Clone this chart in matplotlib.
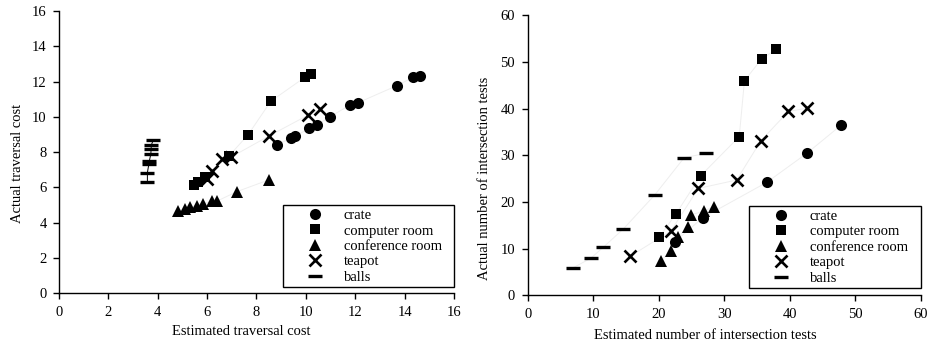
import matplotlib
matplotlib.use("Agg")
import matplotlib.pyplot as plt
from matplotlib.lines import Line2D

plt.rcParams['font.family'] = ['Liberation Serif', 'DejaVu Serif']
plt.rcParams['font.size'] = 10.5

# 左图: 遍历代价 (估计 vs 实际)
crate_x_l = [8.82, 9.40, 9.56, 10.14, 10.44, 10.98, 11.79, 12.12, 13.68, 14.35, 14.62]
crate_y_l = [8.40, 8.80, 8.90, 9.34, 9.53, 10.00, 10.67, 10.80, 11.76, 12.24, 12.32]
comp_x_l = [5.45, 5.65, 5.90, 6.90, 7.65, 8.58, 9.95, 10.20]
comp_y_l = [6.15, 6.30, 6.60, 7.80, 8.96, 10.88, 12.23, 12.45]
conf_x_l = [4.83, 5.10, 5.32, 5.58, 5.82, 6.18, 6.41, 7.20, 8.50]
conf_y_l = [4.65, 4.78, 4.87, 4.95, 5.05, 5.20, 5.22, 5.75, 6.42]
tea_x_l = [6.00, 6.20, 6.60, 6.98, 8.52, 10.10, 10.57]
tea_y_l = [6.45, 6.95, 7.58, 7.72, 8.92, 10.10, 10.42]
balls_x_l = [3.58, 3.58, 3.64, 3.66, 3.72, 3.73, 3.74, 3.82]
balls_y_l = [6.32, 6.83, 7.32, 7.50, 7.89, 8.15, 8.40, 8.68]

# 右图: 相交测试次数
crate_x_r = [22.5, 26.7, 36.5, 42.6, 47.8]
crate_y_r = [11.5, 16.6, 24.2, 30.4, 36.4]
comp_x_r = [20.05, 22.6, 26.4, 32.3, 33.1, 35.7, 37.9]
comp_y_r = [12.4, 17.35, 25.6, 34.0, 46.0, 50.6, 52.7]
conf_x_r = [20.35, 21.88, 23.0, 24.5, 24.9, 26.9, 28.4]
conf_y_r = [7.41, 9.56, 12.56, 14.7, 17.2, 18.06, 19.0]
tea_x_r = [15.7, 21.9, 26.05, 31.9, 35.6, 39.8, 42.7]
tea_y_r = [8.4, 13.85, 22.9, 24.7, 33.1, 39.4, 40.1]
balls_x_r = [6.87, 9.6, 11.55, 14.6, 19.4, 23.9, 27.2]
balls_y_r = [5.85, 7.9, 10.3, 14.2, 21.5, 29.5, 30.4]

labels = ['crate', 'computer room', 'conference room', 'teapot', 'balls']
styles = [
    dict(marker='o', markersize=8, markeredgewidth=0),
    dict(marker='s', markersize=7.6, markeredgewidth=0),
    dict(marker='^', markersize=9, markeredgewidth=0),
    dict(marker='x', markersize=8, markeredgewidth=1.9),
    dict(marker='_', markersize=9.5, markeredgewidth=2.4),
]
LINE_COLOR = '#eeeeee'


def setup_axes(ax, xmax, ymax, step, xlabel, ylabel, xl_pos, yl_pos, xl_y, yl_x):
    ax.set_xlim(0, xmax)
    ax.set_ylim(0, ymax)
    ax.set_xticks(range(0, xmax + 1, step))
    ax.set_yticks(range(0, ymax + 1, step))
    for s in ['top', 'right']:
        ax.spines[s].set_visible(False)
    for s in ['left', 'bottom']:
        ax.spines[s].set_linewidth(1.0)
        ax.spines[s].set_color('black')
    ax.tick_params(direction='out', length=4, width=1, pad=5, labelsize=10.5)
    ax.set_xlabel(xlabel, fontsize=10.5)
    ax.set_ylabel(ylabel, fontsize=10.5)
    ax.xaxis.set_label_coords(xl_pos, xl_y)
    ax.yaxis.set_label_coords(yl_x, yl_pos)


def draw_series(ax, series, balls_line_color):
    for i, (xs, ys) in enumerate(series):
        lc = balls_line_color if i == 4 else LINE_COLOR
        ax.plot(xs, ys, color=lc, linewidth=0.7, zorder=1)
        ax.plot(xs, ys, linestyle='none', color='black', zorder=3, **styles[i])


def add_legend(ax, bbox):
    handles = [Line2D([], [], linestyle='none', color='black', **st) for st in styles]
    leg = ax.legend(handles, labels, loc='lower left', bbox_to_anchor=bbox,
                    mode='expand', borderaxespad=0, borderpad=0.25,
                    handlelength=3.8, handletextpad=0.1, labelspacing=0.15,
                    fancybox=False, framealpha=1, edgecolor='black', fontsize=10.5)
    leg.get_frame().set_linewidth(1.0)


fig = plt.figure(figsize=(9.28, 3.47), dpi=100)
ax1 = fig.add_axes([0.0636, 0.1556, 0.4256, 0.8127])
ax2 = fig.add_axes([0.5686, 0.149, 0.4235, 0.8069])

setup_axes(ax1, 16, 16, 2, 'Estimated traversal cost', 'Actual traversal cost',
           0.4625, 0.461, -0.115, -0.088)
draw_series(ax1, [(crate_x_l, crate_y_l), (comp_x_l, comp_y_l), (conf_x_l, conf_y_l),
                  (tea_x_l, tea_y_l), (balls_x_l, balls_y_l)], 'black')
add_legend(ax1, (0.568, 0.02, 0.432, 0.304))

setup_axes(ax2, 60, 60, 10, 'Estimated number of intersection tests',
           'Actual number of intersection tests', 0.451, 0.419, -0.12, -0.093)
draw_series(ax2, [(crate_x_r, crate_y_r), (comp_x_r, comp_y_r), (conf_x_r, conf_y_r),
                  (tea_x_r, tea_y_r), (balls_x_r, balls_y_r)], LINE_COLOR)
add_legend(ax2, (0.564, 0.025, 0.436, 0.289))

fig.savefig('out.png', dpi=100)
